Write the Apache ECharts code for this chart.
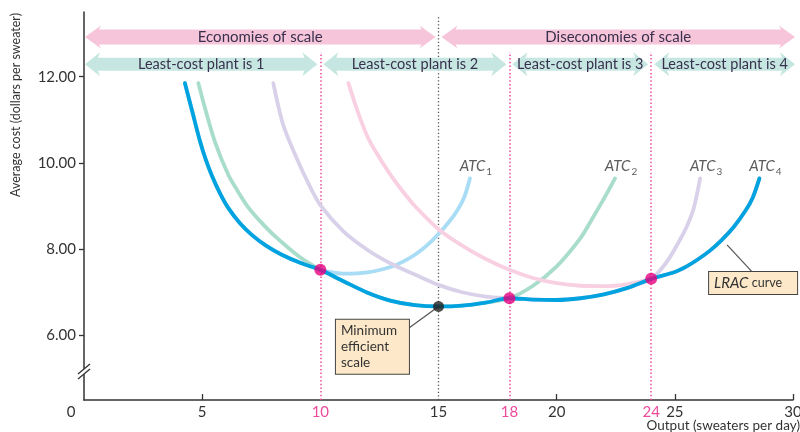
<!DOCTYPE html>
<html><head><meta charset="utf-8">
<script src="https://cdn.jsdelivr.net/npm/echarts@6/dist/echarts.min.js"></script>
<style>html,body{margin:0;padding:0;background:#fff}#c{width:800px;height:432px}</style>
</head><body><div id="c"></div>
<script>
// ---------- data ----------
const xTickLabels = [0, 5, 10, 15, 18, 20, 24, 25, 30];
const xTickMarks = [5, 20, 25, 30];
const yTickLabels = [6, 8, 10, 12];
const highlightX = [10, 18, 24];
const mesX = 15;

const atc1 = [[4.27,11.85],[4.6,11.15],[4.9,10.52],[5.15,10.08],[5.4,9.72],[5.75,9.3],[6.11,8.95],[6.6,8.6],[7.1,8.33],[7.7,8.08],[8.37,7.87],[9.2,7.67],[10,7.52],[11,7.43],[12,7.46],[13,7.59],[13.5,7.71],[14,7.87],[14.5,8.08],[15,8.35],[15.5,8.67],[15.8,8.9],[16.1,9.22],[16.33,9.64]];
const atc2 = [[4.84,11.85],[5.12,11.27],[5.54,10.49],[6.11,9.72],[6.5,9.35],[6.95,8.97],[7.5,8.62],[8.08,8.3],[9.07,7.84],[10,7.52],[11,7.25],[12,6.99],[13,6.8],[14,6.7],[15,6.67],[16,6.69],[17,6.76],[18,6.86],[19,7.15],[20,7.6],[21,8.25],[21.5,8.7],[22,9.17],[22.47,9.64]];
const atc3 = [[8.01,11.85],[8.43,10.88],[9.0,10.11],[9.5,9.52],[10,9.02],[11,8.4],[12,7.98],[13,7.66],[14,7.41],[15,7.17],[16,7.0],[17,6.9],[18,6.86],[19,6.83],[20,6.82],[21,6.86],[22,6.95],[23,7.1],[24,7.31],[24.4,7.52],[24.8,7.82],[25.2,8.2],[25.5,8.52],[25.8,8.95],[26.07,9.64]];
const atc4 = [[11.19,11.85],[11.5,11.32],[12,10.6],[12.5,10.12],[13,9.7],[13.5,9.33],[14,9.0],[15,8.46],[16,8.08],[17,7.77],[18,7.52],[19,7.33],[20,7.21],[21,7.15],[22,7.14],[23,7.19],[24,7.31],[25,7.47],[25.5,7.6],[26,7.77],[26.5,7.97],[27,8.22],[27.5,8.52],[28,8.9],[28.3,9.2],[28.58,9.64]];
const lrac = [[4.27,11.85],[4.6,11.15],[4.9,10.52],[5.15,10.08],[5.4,9.72],[5.75,9.3],[6.11,8.95],[6.6,8.6],[7.1,8.33],[7.7,8.08],[8.37,7.87],[9.2,7.67],[10,7.52],[11,7.25],[12,6.99],[13,6.8],[14,6.7],[15,6.67],[16,6.69],[17,6.76],[18,6.86],[19,6.83],[20,6.82],[21,6.86],[22,6.95],[23,7.1],[24,7.31],[25,7.47],[25.5,7.6],[26,7.77],[26.5,7.97],[27,8.22],[27.5,8.52],[28,8.9],[28.3,9.2],[28.58,9.64]];
const plantSwitch = [[10,7.52],[18,6.86],[24,7.31]];
const minEfficient = [[15,6.67]];

const scaleBands = [[0,15,'Economies of scale'],[15,30,'Diseconomies of scale']];
const plantBands = [[0,10,'Least-cost plant is 1'],[10,18,'Least-cost plant is 2'],[18,24,'Least-cost plant is 3'],[24,30,'Least-cost plant is 4']];
const atcNames = ['1','2','3','4'];

// ---------- styles ----------
const FONT = 'Lato, "Open Sans", sans-serif';
const TXT = '#333';
const PINK = '#ec4a9c';
const XMIN = 0, XMAX = 30, YMIN = 4.5, YMAX = 13.5;
const rows = [
  {y: 12.92, h: 7.5, H: 11.5, L: 16, color: '#f6c5d9', size: 15},
  {y: 12.29, h: 6.5, H: 12, L: 15, color: '#c6e7e1', size: 14.5}
];
const bandItems = scaleBands.map(b => [b[0], b[1], 0, b[2]]).concat(plantBands.map(b => [b[0], b[1], 1, b[2]]));

const chart = echarts.init(document.getElementById('c'));

function line(data, color, z) {
  return {type:'line', data, smooth:0.3, showSymbol:false, silent:true, z,
    lineStyle:{color, width:3.8, cap:'round'}, emphasis:{disabled:true}};
}

const option = {
  animation:false,
  backgroundColor:'#fff',
  grid:{left:84, right:7, top:12, bottom:32, containLabel:false, outerBoundsMode:'none'},
  xAxis:{type:'value', min:XMIN, max:XMAX,
    axisLine:{show:true, onZero:false, lineStyle:{color:'#333', width:1.5}},
    axisTick:{show:true, inside:true, length:6, customValues:xTickMarks, lineStyle:{color:'#333', width:1.3}},
    axisLabel:{customValues:xTickLabels, margin:5, fontFamily:FONT, fontSize:15, color:TXT, hideOverlap:false,
      formatter:v => highlightX.includes(v) ? '{p|' + v + '}' : (v === 0 ? '{z|0}' : String(v)),
      rich:{p:{color:PINK, fontFamily:FONT, fontSize:15}, z:{color:TXT, fontFamily:FONT, fontSize:15, padding:[0,26,0,0]}}},
    splitLine:{show:false},
    name:'Output (sweaters per day)', nameLocation:'end', nameGap:7, nameMoveOverlap:false,
    nameTextStyle:{align:'right', verticalAlign:'top', padding:[19,0,0,0], fontFamily:FONT, fontSize:13.5, color:TXT}
  },
  yAxis:{type:'value', min:YMIN, max:YMAX,
    axisLine:{show:true, lineStyle:{color:'#333', width:1.5}},
    axisTick:{show:true, length:5, customValues:yTickLabels, lineStyle:{color:'#333', width:1.3}},
    axisLabel:{customValues:yTickLabels, margin:8, fontFamily:FONT, fontSize:15, color:TXT, formatter:v => v.toFixed(2)},
    splitLine:{show:false},
    name:'Average cost (dollars per sweater)', nameLocation:'middle', nameRotate:90, nameGap:62, nameMoveOverlap:false,
    nameTextStyle:{fontFamily:FONT, fontSize:12.5, color:TXT, padding:[0,0,0,202]}
  },
  series:[
    {type:'custom', name:'bands', clip:false, silent:true, z:4, data:bandItems,
      renderItem:(params, api) => {
        const it = bandItems[params.dataIndex];
        const cfg = rows[it[2]];
        const a = api.coord([it[0], cfg.y]), b = api.coord([it[1], cfg.y]);
        const l = a[0] + (it[0] === XMIN ? 1 : 3);
        const r = b[0] - (it[1] === XMAX ? -2 : 3);
        const y = a[1], h = cfg.h, H = cfg.H, L = cfg.L;
        const pts = [[l,y],[l+L,y-H],[l+L-2,y-h],[r-L+2,y-h],[r-L,y-H],[r,y],[r-L,y+H],[r-L+2,y+h],[l+L-2,y+h],[l+L,y+H]];
        return {type:'group', children:[
          {type:'polygon', shape:{points:pts}, style:{fill:cfg.color}},
          {type:'text', style:{text:it[3], x:(l+r)/2, y:y+0.5, align:'center', verticalAlign:'middle',
            font:cfg.size + 'px ' + FONT, fill:'#38304d'}}
        ]};
      }
    },
    line(atc1, '#a9dcf5', 2),
    line(atc2, '#a8dccb', 2),
    line(atc3, '#d9d1e9', 2),
    line(atc4, '#f8d0e1', 2),
    Object.assign(line(lrac, '#00a3e0', 3), {
      markLine:{silent:true, symbol:['none','none'], label:{show:false}, z:1,
        data: highlightX.map(x => [{coord:[x, YMIN], lineStyle:{color:PINK, width:1.5, type:[1.5,2.2]}}, {coord:[x, 12.57]}])
          .concat([[{coord:[mesX, YMIN], lineStyle:{color:'#555', width:1.3, type:[1.3,2.2]}}, {coord:[mesX, 13.38]}]])
      }
    }),
    {type:'line', data:[], silent:true, z:6,
      markLine:{silent:true, symbol:['none','none'], label:{show:false},
        data:[
          [{coord:[13.75,6.17], lineStyle:{color:'#555', width:1.2, type:'solid'}}, {coord:[15,6.67]}],
          [{coord:[28.27,7.47], lineStyle:{color:'#555', width:1.2, type:'solid'}}, {coord:[27.21,8.1]}]
        ]},
      markPoint:{silent:true, symbol:'rect', symbolSize:0,
        data:[
          {coord:[10.66,6.36], label:{show:true, position:'inside', align:'left', verticalAlign:'top',
            formatter:'Minimum\nefficient\nscale', backgroundColor:'#fde9c9', borderColor:'#444', borderWidth:1,
            padding:[3,5,3,5], width:63, height:48, lineHeight:16, fontFamily:FONT, fontSize:13.5, color:'#333'}},
          {coord:[26.45,7.47], label:{show:true, position:'inside', align:'left', verticalAlign:'top',
            formatter:'{i|LRAC} {c|curve}', backgroundColor:'#fde9c9', borderColor:'#444', borderWidth:1,
            padding:[3,5,3,5], width:78, height:16, lineHeight:16,
            rich:{i:{fontFamily:FONT, fontStyle:'italic', fontSize:15, color:'#333'}, c:{fontFamily:FONT, fontSize:12.5, color:'#333'}}}}
        ]}
    },
    {type:'scatter', name:'switch', data:plantSwitch, symbolSize:12, z:8, silent:true,
      itemStyle:{color:'#e6007e'}},
    {type:'scatter', name:'mes', data:minEfficient, symbolSize:11, z:8, silent:true,
      itemStyle:{color:'#222'}},
    {type:'scatter', name:'atcLabels', data:[atc1, atc2, atc3, atc4].map(a => a[a.length-1]), symbolSize:1, z:7, silent:true,
      itemStyle:{color:'rgba(0,0,0,0)'},
      label:{show:true, position:'top', distance:1, offset:[6,0],
        formatter:p => '{i|ATC}{s|' + atcNames[p.dataIndex] + '}',
        rich:{i:{fontFamily:FONT, fontStyle:'italic', fontSize:15, color:'#333', padding:[0,0,3,0]},
              s:{fontFamily:FONT, fontSize:10, color:'#333', verticalAlign:'bottom', padding:[0,0,0,1]}}}}
  ]
};
chart.setOption(option);

// axis break marks on the y axis
const bp = chart.convertToPixel({gridIndex:0}, [XMIN, 5.15]);
const cx = bp[0], cy = bp[1];
chart.setOption({graphic:[
  {type:'polygon', silent:true, z:50, shape:{points:[[cx-6,cy+2],[cx+6,cy-8],[cx+6,cy-3],[cx-6,cy+7]]}, style:{fill:'#fff'}},
  {type:'line', silent:true, z:51, shape:{x1:cx-6, y1:cy+2, x2:cx+6, y2:cy-8}, style:{stroke:'#333', lineWidth:1.3}},
  {type:'line', silent:true, z:51, shape:{x1:cx-6, y1:cy+7, x2:cx+6, y2:cy-3}, style:{stroke:'#333', lineWidth:1.3}}
]});
</script></body></html>
